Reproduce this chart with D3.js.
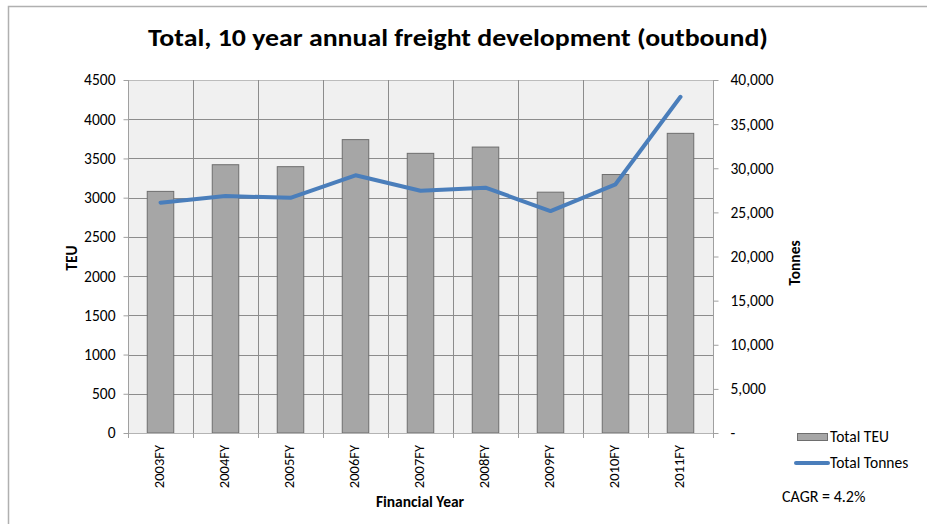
<!DOCTYPE html>
<html><head><meta charset="utf-8">
<script src="https://cdn.jsdelivr.net/npm/d3@7"></script>
<style>
html,body{margin:0;padding:0;background:#fff;}
text{font-family:Carlito,Calibri,"Liberation Sans",sans-serif;fill:#000;}
</style></head>
<body>
<svg id="c" width="927" height="524"></svg>
<script>
const categories = ["2003FY","2004FY","2005FY","2006FY","2007FY","2008FY","2009FY","2010FY","2011FY"];
const teuValues = [3080, 3420, 3395, 3740, 3565, 3645, 3070, 3295, 3820];
const tonnesValues = [26100, 26850, 26650, 29200, 27450, 27800, 25150, 28180, 38100];
const leftTicks = [0,500,1000,1500,2000,2500,3000,3500,4000,4500];
const rightTicks = [0,5000,10000,15000,20000,25000,30000,35000,40000];
const titleText = "Total, 10 year annual freight development (outbound)";
const seriesNames = ["Total TEU","Total Tonnes"];
const cagrText = "CAGR = 4.2%";

const svg = d3.select("#c");
const L = 128, R = 713, T = 80, B = 433;
const FS = 15.5;

// outer border
svg.append("path").attr("d","M8.5,524 V6.5 H927").attr("fill","none").attr("stroke","#b0b0b0").attr("stroke-width",1.5);

const x = d3.scaleBand().domain(categories).range([L,R]).paddingInner(0).paddingOuter(0);
const yL = d3.scaleLinear().domain([0,4500]).range([B,T]);
const yR = d3.scaleLinear().domain([0,40000]).range([B,T]);

// plot background
svg.append("rect").attr("x",L).attr("y",T).attr("width",R-L).attr("height",B-T).attr("fill","#f0f0f0");

// horizontal gridlines
svg.append("g").selectAll("line").data(leftTicks.filter(d=>d>0)).join("line")
  .attr("x1",L).attr("x2",R).attr("y1",d=>Math.round(yL(d))+0.5).attr("y2",d=>Math.round(yL(d))+0.5)
  .attr("stroke",d=>d===4500?"#bcbcbc":"#8c8c8c").attr("stroke-width",1);
// vertical gridlines
svg.append("g").selectAll("line").data(categories.slice(1)).join("line")
  .attr("x1",d=>Math.round(x(d))+0.5).attr("x2",d=>Math.round(x(d))+0.5).attr("y1",T).attr("y2",B)
  .attr("stroke","#8c8c8c").attr("stroke-width",1);

// bars
const bw = 26.5;
svg.append("g").selectAll("rect").data(categories).join("rect")
  .attr("x",(d)=>x(d)+x.bandwidth()/2-bw/2)
  .attr("y",(d,i)=>yL(teuValues[i]))
  .attr("width",bw)
  .attr("height",(d,i)=>B-yL(teuValues[i]))
  .attr("fill","#a6a6a6").attr("stroke","#6e6e6e").attr("stroke-width",1);

// axes
const axL = d3.axisLeft(yL).tickValues(leftTicks).tickSize(5).tickPadding(8).tickFormat(d3.format("d"));
const gL = svg.append("g").attr("transform",`translate(${L+0.5},0)`).call(axL);
gL.select(".domain").attr("stroke","#a0a0a0").attr("d",`M0,${T}V${B+5}`);
gL.selectAll(".tick line").attr("stroke","#a0a0a0");
gL.selectAll(".tick text").attr("font-size",FS).attr("fill","#000");

const axR = d3.axisRight(yR).tickValues(rightTicks).tickSize(5).tickPadding(12)
  .tickFormat(d=>d===0?"-":d3.format(",")(d));
const gR = svg.append("g").attr("transform",`translate(${R+0.5},0)`).call(axR);
gR.select(".domain").attr("stroke","#a0a0a0").attr("d",`M0,${T}V${B+5}`);
gR.selectAll(".tick line").attr("stroke","#a0a0a0");
gR.selectAll(".tick text").attr("font-size",FS).attr("fill","#000");

const axB = d3.axisBottom(x).tickSize(0).tickFormat("");
const gB = svg.append("g").attr("transform",`translate(0,${B+0.5})`).call(axB);
gB.select(".domain").attr("stroke","#b4b4b4").attr("d",`M${L},0H${R}`);
// category boundary ticks
svg.append("g").selectAll("line").data(d3.range(categories.length+1)).join("line")
  .attr("x1",i=>Math.round(L+i*x.bandwidth())+0.5).attr("x2",i=>Math.round(L+i*x.bandwidth())+0.5)
  .attr("y1",B).attr("y2",B+5).attr("stroke","#a0a0a0");
// category labels rotated
svg.append("g").selectAll("text").data(categories).join("text")
  .attr("transform",d=>`translate(${x(d)+x.bandwidth()/2+3},${B+12}) rotate(-90)`)
  .attr("text-anchor","end").attr("font-size",14.5).text(d=>d);

// line
const line = d3.line().x((d,i)=>x(categories[i])+x.bandwidth()/2).y(d=>yR(d));
svg.append("path").datum(tonnesValues).attr("d",line)
  .attr("fill","none").attr("stroke","#4a7ebb").attr("stroke-width",4).attr("stroke-linecap","round").attr("stroke-linejoin","round");

// title
svg.append("text").attr("x",458).attr("y",46).attr("text-anchor","middle")
  .attr("font-size",24).attr("font-weight","bold").attr("textLength",620).attr("lengthAdjust","spacingAndGlyphs").text(titleText);

// axis titles
svg.append("text").attr("transform","translate(77,258) rotate(-90)").attr("text-anchor","middle")
  .attr("font-size",FS).attr("font-weight","bold").text("TEU");
svg.append("text").attr("transform","translate(800,263) rotate(-90)").attr("text-anchor","middle")
  .attr("font-size",FS).attr("font-weight","bold").text("Tonnes");
svg.append("text").attr("x",420).attr("y",507).attr("text-anchor","middle")
  .attr("font-size",FS).attr("font-weight","bold").text("Financial Year");

// legend
const lg = svg.append("g");
lg.append("rect").attr("x",797.5).attr("y",433.5).attr("width",30).attr("height",7).attr("fill","#a6a6a6").attr("stroke","#6e6e6e");
lg.append("text").attr("x",830).attr("y",442).attr("font-size",FS).text(seriesNames[0]);
lg.append("line").attr("x1",796).attr("x2",828).attr("y1",463).attr("y2",463).attr("stroke","#4a7ebb").attr("stroke-width",4).attr("stroke-linecap","round");
lg.append("text").attr("x",830).attr("y",468).attr("font-size",FS).text(seriesNames[1]);
svg.append("text").attr("x",782).attr("y",502).attr("font-size",16).text(cagrText);
</script>
</body></html>
